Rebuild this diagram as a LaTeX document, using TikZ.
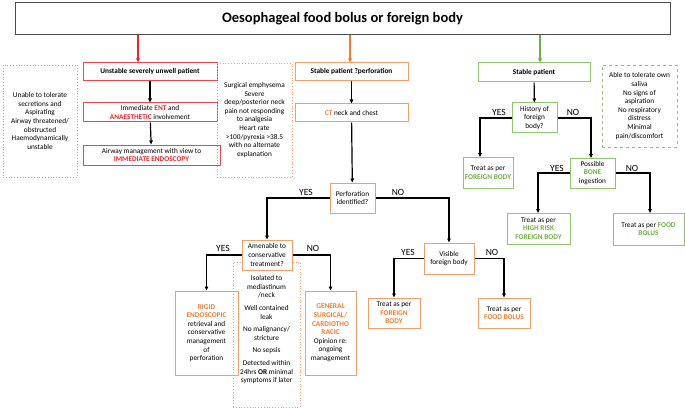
\documentclass[tikz,border=0pt]{standalone}
\usepackage{fontspec}
\setmainfont{Carlito}
\usetikzlibrary{arrows.meta}
\definecolor{rd}{HTML}{E8262B}
\definecolor{rdl}{HTML}{E8474B}
\definecolor{rdd}{HTML}{F08A8C}
\definecolor{og}{HTML}{ED7D31}
\definecolor{ogl}{HTML}{F2A06A}
\definecolor{gn}{HTML}{70AD47}
\definecolor{gnl}{HTML}{92C56F}
\newcommand{\R}[1]{\textcolor{rd}{\textbf{#1}}}
\newcommand{\Og}[1]{\textcolor{og}{\textbf{#1}}}
\newcommand{\G}[1]{\textcolor{gn}{\textbf{#1}}}
\begin{document}
\begin{tikzpicture}[x=1pt,y=-1pt,font=\fontsize{7.3}{8.6}\selectfont,
 bx/.style={draw,line width=1pt,align=center,inner sep=1pt},
 rb/.style={bx,draw=rdl},ob/.style={bx,draw=ogl},gb/.style={bx,draw=gnl},
 dt/.style={draw,line width=0.8pt,dotted,align=center,inner sep=1pt},
 ar/.style={-{Triangle[length=4pt,width=3.5pt]},line width=1.2pt},
 yn/.style={font=\fontsize{9.5}{10}\selectfont}]
\useasboundingbox (0,0) rectangle (685,409);
\newcommand{\B}[6]{\node[#1,minimum width=#4-#2,minimum height=#5-#3] (#6) at ({(#2+#4)/2},{(#3+#5)/2})}
% title
\B{bx,draw=black!70}{15}{3}{670}{35}{t} {\fontsize{14.5}{16}\selectfont\bfseries Oesophageal food bolus or foreign body};
\coordinate (tr) at (138,35); \coordinate (to) at (350,35); \coordinate (tg) at (540,35);
% red column
\B{dt,draw=rdd}{3}{65}{77}{177}{rd1} {Unable to tolerate\\secretions and\\Aspirating\\Airway threatened/\\obstructed\\Haemodynamically\\unstable};
\B{rb}{83}{63}{217}{81}{r1} {\textbf{Unstable severely unwell patient}};
\B{rb}{83}{103}{217}{122}{r2} {Immediate \R{ENT} and\\\R{ANAESTHETIC} involvement};
\B{rb}{83}{145}{220}{165}{r3} {Airway management with view to\\\R{IMMEDIATE ENDOSCOPY}};
\draw[ar,draw=rd,color=rd] (tr) -- (r1.north-|tr);
\draw[ar] (r1) -- (r2); \draw[ar] (r2) -- (r3);
% orange column
\B{dt,draw=ogl}{217}{63}{292}{177}{od1} {Surgical emphysema\\Severe\\deep/posterior neck\\pain not responding\\to analgesia\\Heart rate\\>100/pyrexia >38.5\\with no alternate\\explanation};
\B{ob}{295}{63}{408}{81}{o1} {\textbf{Stable patient ?perforation}};
\B{ob}{295}{104}{408}{122}{o2} {\Og{CT} neck and chest};
\B{ob}{330}{183}{375}{213}{o3} {Perforation\\identified?};
\draw[ar,draw=og,color=og] (to) -- (o1.north-|to);
\draw[ar] (o1) -- (o2); \draw[ar] (o2) -- (o3);
\B{dt,draw=ogl}{233}{262}{300}{407}{od2} {};
\node[align=center,anchor=north] at (266.5,272) {Isolated to\\mediastinum\\/neck\\[4pt]Well contained\\leak\\[4pt]No malignancy/\\stricture\\[4pt]No sepsis\\[4pt]Detected within\\24hrs \textbf{OR} minimal\\symptoms if later};
\B{ob,fill=white}{242}{240}{292}{270}{o4} {Amenable to\\conservative\\treatment?};
\B{ob}{175}{291}{238}{375}{o5} {\Og{RIGID}\\\Og{ENDOSCOPIC}\\retrieval and\\conservative\\management\\of\\perforation};
\B{ob}{305}{291}{356}{375}{o6} {\Og{GENERAL}\\\Og{SURGICAL/}\\\Og{CARDIOTHO}\\\Og{RACIC}\\Opinion re:\\ongoing\\management};
\B{ob}{424}{243}{474}{274}{o7} {Visible\\foreign body};
\B{ob}{368}{298}{420}{328}{o8} {Treat as per\\\Og{FOREIGN}\\\Og{BODY}};
\B{ob}{478}{298}{530}{328}{o9} {Treat as per\\\Og{FOOD BOLUS}};
\draw[ar] (o3.west) -| (o4.north); \node[yn] at (306,192) {YES};
\draw[ar] (o3.east) -| (o7.north); \node[yn] at (398,192) {NO};
\draw[ar] (o4.west) -| (o5.north); \node[yn] at (223,248) {YES};
\draw[ar] (o4.east) -| (o6.north); \node[yn] at (313,248) {NO};
\draw[ar] (o7.west) -| (o8.north); \node[yn] at (408,252) {YES};
\draw[ar] (o7.east) -| (o9.north); \node[yn] at (492,252) {NO};
% green column
\B{gb}{478}{63}{590}{82}{g1} {\textbf{Stable patient}};
\B{dt,draw=gnl,dashed}{602}{65}{677}{147}{gd} {Able to tolerate own\\saliva\\No signs of\\aspiration\\No respiratory\\distress\\Minimal\\pain/discomfort};
\B{gb}{512}{103}{557}{133}{g2} {History of\\foreign\\body?};
\B{gb}{463}{157}{513}{188}{g3} {Treat as per\\\G{FOREIGN BODY}};
\B{gb}{570}{158}{615}{188}{g4} {Possible\\\G{BONE}\\ingestion};
\B{gb}{507}{213}{570}{244}{g5} {Treat as per\\\G{HIGH RISK}\\\G{FOREIGN BODY}};
\B{gb}{613}{213}{684}{245}{g6} {Treat as per \G{FOOD}\\\G{BOLUS}};
\draw[ar,draw=gn,color=gn] (tg) -- (g1.north-|tg);
\draw[ar] (g1) -- (g2);
\draw[ar] (g2.west) -| (480,157); \node[yn] at (499,112) {YES};
\draw[ar] (g2.east) -| (591,158); \node[yn] at (573,112) {NO};
\draw[ar] (g4.west) -| (538,213); \node[yn] at (557,168) {YES};
\draw[ar] (g4.east) -| (650,213); \node[yn] at (632,168) {NO};
\end{tikzpicture}
\end{document}
